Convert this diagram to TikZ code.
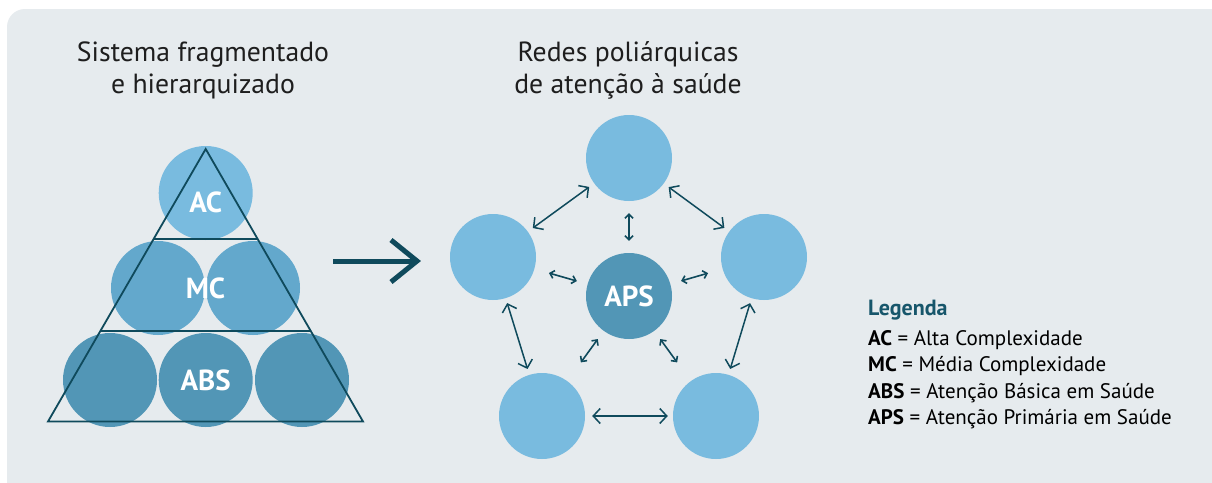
\documentclass[tikz,border=0pt]{standalone}
\usepackage{fontspec}
\setmainfont{PT Sans}
\usetikzlibrary{arrows.meta,calc}
\definecolor{bg}{HTML}{E6EBEE}
\definecolor{dk}{HTML}{0F4A5C}
\definecolor{cA}{HTML}{79BBDF}
\definecolor{cB}{HTML}{63A8CC}
\definecolor{cC}{HTML}{5296B6}
\definecolor{txt}{HTML}{1E1E1E}
\definecolor{leg}{HTML}{17566B}
\begin{document}
\begin{tikzpicture}[x=1pt,y=-1pt,
  bigc/.style={circle,inner sep=0pt,minimum size=94pt},
  netc/.style={circle,inner sep=0pt,minimum size=86pt,fill=cA},
  lbl/.style={text=white,font=\bfseries\fontsize{29}{32}\selectfont,inner sep=0pt},
  ttl/.style={text=txt,font=\fontsize{27.7}{32}\selectfont,align=center,inner sep=0pt},
  bigarr/.style={draw=dk,line width=1.5pt,{Straight Barb[length=7pt,width=15pt]}-{Straight Barb[length=7pt,width=15pt]}},
  smallarr/.style={draw=dk,line width=1.6pt,{Straight Barb[length=4pt,width=8pt]}-{Straight Barb[length=4pt,width=8pt]}},
  tri/.style={draw=dk,line width=1.8pt},
  legtxt/.style={text=black,font=\fontsize{21}{26}\selectfont,anchor=base west,inner sep=0pt}]
\useasboundingbox (0,0) rectangle (1212,482);
\fill[white] (0,0) rectangle (1212,482);
\fill[bg,rounded corners=18pt] (7,9) rectangle (1240,510);

% titles
\node[ttl] (t1) at (203,70) {Sistema fragmentado\\e hierarquizado};
\node[ttl] (t2) at (628,70) {Redes poliárquicas\\de atenção à saúde};

% pyramid circles
\node[bigc,fill=cA] (ac) at (205.7,193) {};
\node[bigc,fill=cB] (mcl) at (158,288) {};
\node[bigc,fill=cB] (mcr) at (253,288) {};
\node[bigc,fill=cC] (absl) at (110,380) {};
\node[bigc,fill=cC] (absm) at (205.7,380) {};
\node[bigc,fill=cC] (absr) at (302,380) {};
\node[lbl] at ([yshift=-9pt]ac.center) {AC};
\node[lbl] at ($(mcl)!0.5!(mcr)$) {MC};
\node[lbl] at (absm) {ABS};

% triangle
\coordinate (apex) at (205.7,149);
\coordinate (bl) at (48,421.5);
\coordinate (br) at (363,421.5);
\draw[tri,line join=miter] (apex) -- (bl) -- (br) -- cycle;
\draw[tri] ($(apex)!0.33!(bl)$) -- ($(apex)!0.33!(br)$);
\draw[tri] ($(apex)!0.668!(bl)$) -- ($(apex)!0.668!(br)$);

% main arrow
\coordinate (m1) at (333,261);
\coordinate (m2) at (417,261);
\draw[dk,line width=5pt] (m1) -- ($(m2)+(-3,0)$);
\draw[dk,line width=5pt,line join=miter] ($(m2)+(-26,-21)$) -- (m2) -- ($(m2)+(-26,21)$);

% network
\node[netc] (top) at (629,158) {};
\node[netc] (lft) at (493,257) {};
\node[netc] (rgt) at (764,257) {};
\node[netc] (bl2) at (542,416) {};
\node[netc] (br2) at (716,416) {};
\node[netc,fill=cC] (aps) at (629,296) {};
\node[lbl] at (aps) {APS};

\draw[bigarr,shorten <=6pt,shorten >=6pt] (lft) -- (top);
\draw[bigarr,shorten <=6pt,shorten >=6pt] (top) -- (rgt);
\draw[bigarr,shorten <=5pt,shorten >=6pt] (lft) -- (bl2);
\draw[bigarr,shorten <=5pt,shorten >=6pt] (rgt) -- (br2);
\draw[bigarr,shorten <=7pt,shorten >=5pt] (bl2) -- (br2);

\draw[smallarr,shorten <=12pt,shorten >=12pt] (top) -- (aps);
\draw[smallarr,shorten <=15pt,shorten >=11pt] (lft) -- (aps);
\draw[smallarr,shorten <=15pt,shorten >=11pt] (rgt) -- (aps);
\draw[smallarr,shorten <=23pt,shorten >=10pt] (bl2) -- (aps);
\draw[smallarr,shorten <=23pt,shorten >=10pt] (br2) -- (aps);

% legend
\node[legtxt,text=leg,font=\bfseries\fontsize{22}{26}\selectfont] (lg) at (868,315) {Legenda};
\node[legtxt] (l1) at (868,345) {\textbf{AC} = Alta Complexidade};
\node[legtxt] (l2) at (868,371.5) {\textbf{MC} = Média Complexidade};
\node[legtxt] (l3) at (868,398) {\textbf{ABS} = Atenção Básica em Saúde};
\node[legtxt] (l4) at (868,424.5) {\textbf{APS} = Atenção Primária em Saúde};
\end{tikzpicture}
\end{document}
